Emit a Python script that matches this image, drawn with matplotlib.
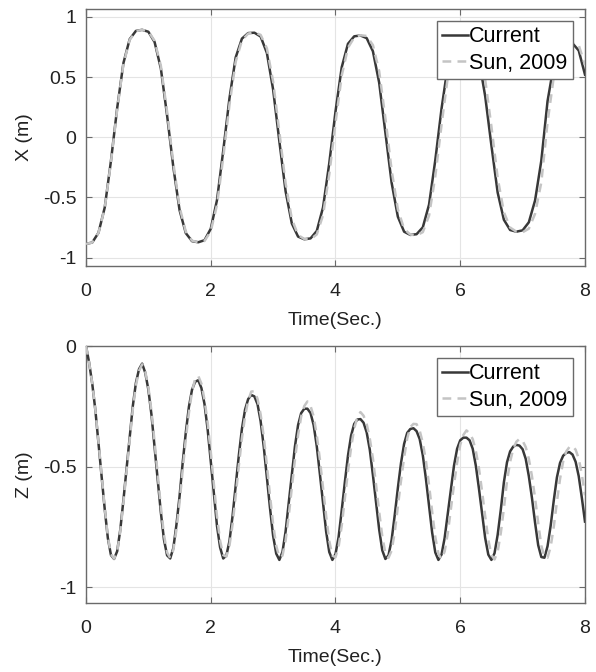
import numpy as np
import matplotlib
matplotlib.use('Agg')
import matplotlib.pyplot as plt

plt.rcParams['font.family'] = ['Liberation Sans', 'DejaVu Sans']
plt.rcParams['axes.unicode_minus'] = False

# 시간축 (sec.) - X는 0.1초 간격, Z는 0.05초 간격으로 그림에서 읽은 값
t_x = np.linspace(0, 8, 81)
t_z = np.linspace(0, 8, 161)

# X (m) - current
x_current = [
    -0.887, -0.875, -0.794, -0.585, -0.197, 0.243, 0.616, 0.814, 0.883, 0.892,
    0.876, 0.790, 0.571, 0.181, -0.248, -0.606, -0.797, -0.864, -0.873, -0.856,
    -0.761, -0.523, -0.113, 0.323, 0.663, 0.819, 0.865, 0.868, 0.836, 0.700,
    0.396, -0.034, -0.449, -0.717, -0.826, -0.848, -0.841, -0.779, -0.584, -0.217,
    0.213, 0.581, 0.776, 0.838, 0.845, 0.823, 0.714, 0.454, 0.038, -0.378,
    -0.661, -0.785, -0.812, -0.806, -0.749, -0.560, -0.191, 0.236, 0.590, 0.763,
    0.810, 0.813, 0.780, 0.645, 0.341, -0.069, -0.460, -0.686, -0.771, -0.785,
    -0.774, -0.707, -0.525, -0.195, 0.300, 0.600, 0.730, 0.772, 0.780, 0.720,
    0.520]

# X (m) - Sun, 2009
x_sun = [
    -0.887, -0.875, -0.795, -0.590, -0.207, 0.231, 0.606, 0.808, 0.881, 0.892,
    0.879, 0.800, 0.593, 0.213, -0.215, -0.581, -0.785, -0.860, -0.873, -0.862,
    -0.781, -0.564, -0.169, 0.269, 0.627, 0.804, 0.861, 0.870, 0.850, 0.738,
    0.462, 0.044, -0.383, -0.680, -0.813, -0.846, -0.848, -0.808, -0.648, -0.310,
    0.117, 0.512, 0.743, 0.829, 0.847, 0.841, 0.765, 0.549, 0.158, -0.275,
    -0.600, -0.762, -0.809, -0.816, -0.789, -0.652, -0.325, 0.102, 0.498, 0.724,
    0.801, 0.818, 0.811, 0.728, 0.478, 0.087, -0.338, -0.623, -0.751, -0.785,
    -0.790, -0.760, -0.636, -0.375, 0.124, 0.503, 0.691, 0.760, 0.785, 0.765,
    0.600]

# Z (m) - current
z_current = [
    0.000, -0.069, -0.156, -0.266, -0.401, -0.540, -0.676, -0.796, -0.867, -0.883,
    -0.851, -0.761, -0.639, -0.508, -0.375, -0.250, -0.153, -0.096, -0.073, -0.111,
    -0.181, -0.286, -0.419, -0.556, -0.690, -0.803, -0.868, -0.881, -0.838, -0.741,
    -0.623, -0.484, -0.359, -0.252, -0.181, -0.148, -0.142, -0.174, -0.241, -0.345,
    -0.476, -0.610, -0.746, -0.835, -0.881, -0.869, -0.809, -0.704, -0.579, -0.454,
    -0.343, -0.264, -0.220, -0.203, -0.209, -0.241, -0.312, -0.418, -0.546, -0.672,
    -0.787, -0.861, -0.887, -0.854, -0.769, -0.651, -0.531, -0.416, -0.328, -0.278,
    -0.260, -0.260, -0.278, -0.328, -0.416, -0.531, -0.651, -0.769, -0.854, -0.887,
    -0.863, -0.792, -0.681, -0.565, -0.455, -0.372, -0.323, -0.305, -0.303, -0.318,
    -0.358, -0.430, -0.535, -0.649, -0.760, -0.847, -0.883, -0.868, -0.804, -0.701,
    -0.589, -0.486, -0.406, -0.360, -0.344, -0.341, -0.353, -0.386, -0.453, -0.551,
    -0.663, -0.774, -0.856, -0.887, -0.865, -0.796, -0.695, -0.591, -0.496, -0.426,
    -0.391, -0.380, -0.380, -0.391, -0.426, -0.496, -0.591, -0.695, -0.796, -0.865,
    -0.887, -0.859, -0.783, -0.680, -0.565, -0.482, -0.437, -0.417, -0.410, -0.413,
    -0.428, -0.468, -0.540, -0.630, -0.733, -0.826, -0.875, -0.878, -0.830, -0.745,
    -0.640, -0.545, -0.485, -0.455, -0.443, -0.440, -0.450, -0.480, -0.540, -0.630,
    -0.728]

# Z (m) - Sun, 2009
z_sun = [
    0.000, -0.069, -0.155, -0.264, -0.397, -0.535, -0.670, -0.790, -0.863, -0.882,
    -0.853, -0.768, -0.649, -0.520, -0.388, -0.263, -0.164, -0.103, -0.076, -0.106,
    -0.171, -0.271, -0.399, -0.534, -0.667, -0.783, -0.856, -0.879, -0.846, -0.761,
    -0.648, -0.514, -0.387, -0.277, -0.188, -0.136, -0.124, -0.156, -0.223, -0.317,
    -0.439, -0.572, -0.706, -0.808, -0.867, -0.873, -0.828, -0.739, -0.621, -0.497,
    -0.382, -0.292, -0.226, -0.189, -0.187, -0.219, -0.284, -0.376, -0.494, -0.620,
    -0.739, -0.829, -0.876, -0.869, -0.807, -0.705, -0.586, -0.470, -0.370, -0.292,
    -0.249, -0.230, -0.249, -0.292, -0.370, -0.471, -0.587, -0.705, -0.808, -0.869,
    -0.876, -0.832, -0.745, -0.632, -0.520, -0.421, -0.342, -0.296, -0.274, -0.289,
    -0.323, -0.384, -0.467, -0.575, -0.687, -0.789, -0.859, -0.878, -0.848, -0.772,
    -0.667, -0.559, -0.463, -0.383, -0.336, -0.323, -0.324, -0.351, -0.402, -0.476,
    -0.577, -0.688, -0.792, -0.862, -0.883, -0.852, -0.777, -0.676, -0.574, -0.484,
    -0.410, -0.369, -0.350, -0.362, -0.386, -0.435, -0.507, -0.603, -0.706, -0.803,
    -0.867, -0.885, -0.853, -0.776, -0.673, -0.560, -0.480, -0.426, -0.397, -0.385,
    -0.393, -0.419, -0.468, -0.540, -0.631, -0.734, -0.828, -0.875, -0.878, -0.832,
    -0.749, -0.646, -0.551, -0.479, -0.437, -0.419, -0.415, -0.430, -0.467, -0.533,
    -0.619]

time_ticks = [0, 2, 4, 6, 8]
x_yticks = [-1, -0.5, 0, 0.5, 1]
x_yticklabels = ['-1', '-0.5', '0', '0.5', '1']
z_yticks = [-1, -0.5, 0]
z_yticklabels = ['-1', '-0.5', '0']
series_labels = ['Current', 'Sun, 2009']

dark = '#383838'
light = '#c4c4c4'
edge = '#6a6a6a'

fig = plt.figure(figsize=(5.96, 6.72), dpi=100)
ax1 = fig.add_axes([0.1443, 0.6042, 0.8372, 0.3824])
ax2 = fig.add_axes([0.1443, 0.1022, 0.8372, 0.3829])


def draw(ax, t, cur, sun, yticks, yticklabels, ylim, ylabel):
    ax.plot(t, cur, color=dark, lw=1.8, label=series_labels[0], zorder=3)
    ax.plot(t, sun, color=light, lw=1.8, dashes=(3.5, 2.5), label=series_labels[1], zorder=4)
    ax.set_xlim(0, 8)
    ax.set_ylim(*ylim)
    ax.set_xticks(time_ticks)
    ax.set_xticklabels([str(v) for v in time_ticks])
    ax.set_yticks(yticks)
    ax.set_yticklabels(yticklabels)
    ax.grid(True, color='#e4e4e4', lw=0.8)
    ax.set_axisbelow(True)
    for s in ax.spines.values():
        s.set_color(edge)
        s.set_linewidth(1.0)
    ax.tick_params(direction='in', top=True, right=True, length=4, width=0.8,
                   color=edge, labelsize=14, labelcolor='#222222')
    ax.tick_params(axis='x', pad=12)
    ax.tick_params(axis='y', pad=7)
    ax.set_xlabel('Time(Sec.)', fontsize=14, color='#222222', labelpad=9)
    ax.set_ylabel(ylabel, fontsize=14, color='#222222', labelpad=7)
    leg = ax.legend(loc='upper right', bbox_to_anchor=(1 - 12 / 499, 1 - 12 / 257),
                    borderaxespad=0, fancybox=False, framealpha=1, edgecolor=edge,
                    fontsize=15.5, handlelength=1.2, handletextpad=0.05,
                    labelspacing=0.25, borderpad=0.25)
    leg.get_frame().set_linewidth(1.0)


draw(ax1, t_x, x_current, x_sun, x_yticks, x_yticklabels, (-1.07, 1.065), 'X (m)')
draw(ax2, t_z, z_current, z_sun, z_yticks, z_yticklabels, (-1.067, 0), 'Z (m)')

fig.savefig('out.png', dpi=100)
